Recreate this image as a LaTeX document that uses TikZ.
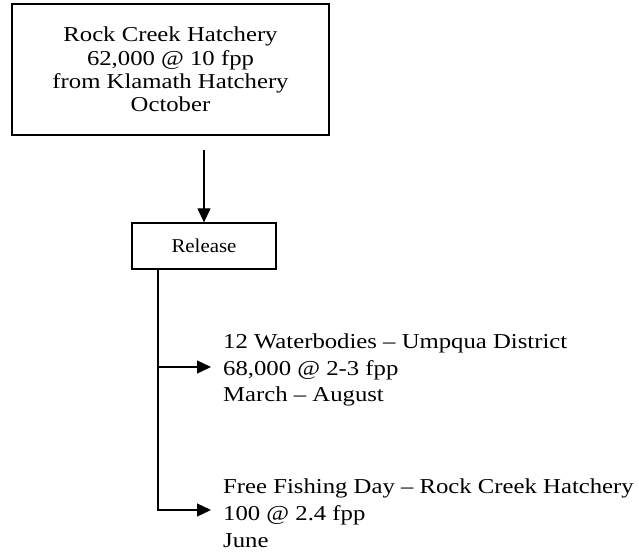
\documentclass[tikz,border=0pt]{standalone}
\usepackage{fontspec}
\setmainfont[FakeStretch=1.165]{Liberation Serif}
\newfontfamily\relfont[FakeStretch=1.07]{Liberation Serif}
\usetikzlibrary{arrows.meta}
\begin{document}
\begin{tikzpicture}[x=1bp,y=-1bp,
  every node/.style={font=\fontsize{21.3}{23.5}\selectfont},
  box/.style={draw, line width=1.5bp},
  arr/.style={line width=1.3bp, -{Triangle[length=14bp,width=13bp]}},
  lbl/.style={anchor=west, align=left, inner xsep=12bp, inner ysep=0pt,
    font=\fontsize{21.3}{27}\selectfont}]
\useasboundingbox[fill=white] (0,0) rectangle (639,556);
\node[box, minimum width=317bp, minimum height=131bp, align=center] (top) at (170.5,69.5)
  {Rock Creek Hatchery\\62,000 @ 10 fpp\\from Klamath Hatchery\\October};
\node[box, line width=1.3bp, minimum width=144bp, minimum height=46bp, inner sep=0pt,
  font=\relfont\fontsize{19.6}{22}\selectfont] (rel) at (204,246) {Release};
\coordinate (src) at (rel.north |- 0,150);
\draw[arr] (src) -- (rel.north);
\coordinate (trunk) at (158,269);
\node[lbl] (l1) at (211,370) {12 Waterbodies -- Umpqua District\\68,000 @ 2-3 fpp\\March -- August};
\node[lbl] (l2) at (211,513) {Free Fishing Day -- Rock Creek Hatchery\\100 @ 2.4 fpp\\June};
\coordinate (t1) at ([yshift=3bp]l1.west);
\coordinate (t2) at ([yshift=3bp]l2.west);
\draw[arr] (trunk) |- (t2);
\draw[arr] (trunk |- t1) -- (t1);
\end{tikzpicture}
\end{document}
